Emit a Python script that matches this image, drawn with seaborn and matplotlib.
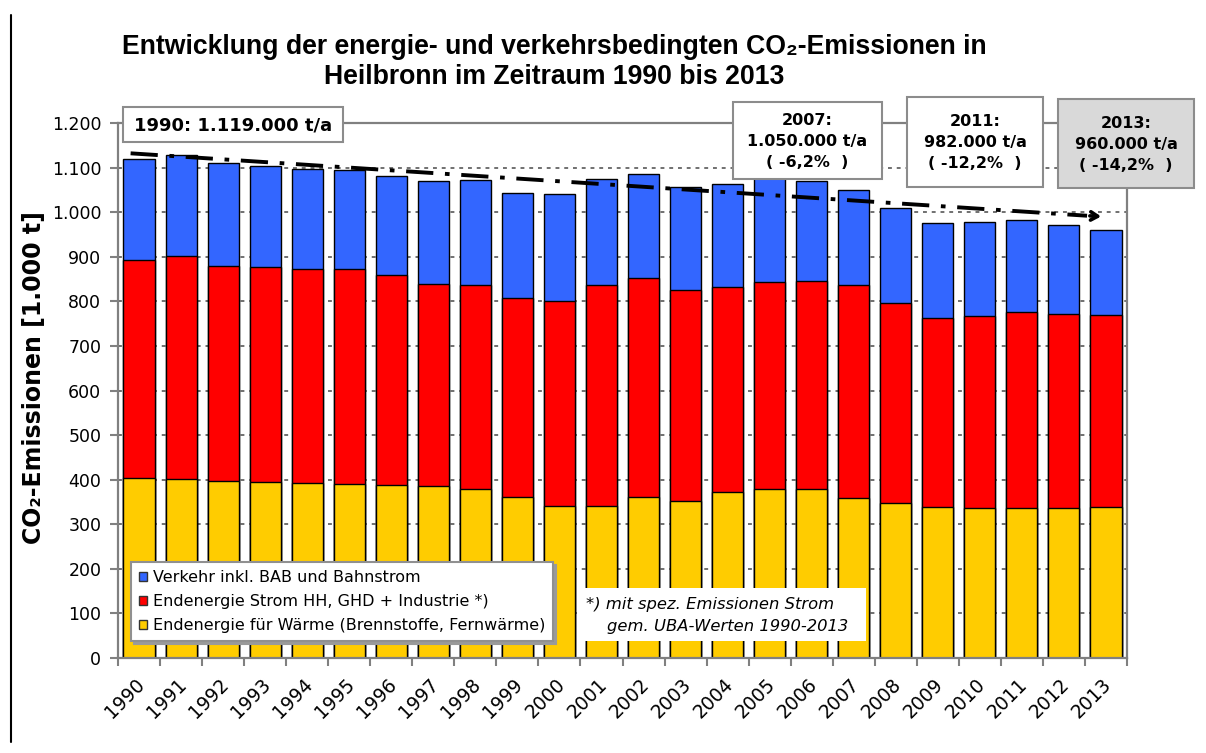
import matplotlib
matplotlib.use("Agg")
import matplotlib.pyplot as plt
import matplotlib.transforms as mtransforms
from matplotlib.patches import Rectangle, Patch
from matplotlib.lines import Line2D
import numpy as np
import seaborn as sns

# ---------------- data ----------------
years = ["1990", "1991", "1992", "1993", "1994", "1995", "1996", "1997", "1998",
         "1999", "2000", "2001", "2002", "2003", "2004", "2005", "2006", "2007",
         "2008", "2009", "2010", "2011", "2012", "2013"]
waerme = [403, 401, 398, 395, 393, 390, 387, 386, 378, 362, 340, 340,
          361, 353, 372, 378, 378, 360, 348, 339, 336, 336, 336, 338]
strom = [490, 501, 482, 483, 480, 482, 471, 454, 459, 446, 461, 497,
         491, 472, 461, 465, 467, 477, 448, 423, 430, 441, 436, 432]
verkehr = [226, 226, 230, 226, 224, 222, 224, 230, 236, 236, 239, 237,
           233, 232, 231, 234, 225, 213, 214, 214, 211, 205, 199, 190]
series_labels = ["Verkehr inkl. BAB und Bahnstrom",
                 "Endenergie Strom HH, GHD + Industrie *)",
                 "Endenergie für Wärme (Brennstoffe, Fernwärme)"]
yticks = list(range(0, 1201, 100))
ytick_labels = ["0", "100", "200", "300", "400", "500", "600", "700", "800",
                "900", "1.000", "1.100", "1.200"]
trend_x = [-0.2, 22.55]
trend_y = [1132, 992]
trend_tip = [22.95, 990]

box_texts = ["1990: 1.119.000 t/a",
             "2007:\n1.050.000 t/a\n( -6,2%  )",
             "2011:\n982.000 t/a\n( -12,2%  )",
             "2013:\n960.000 t/a\n( -14,2%  )"]

c_blue, c_red, c_yellow = "#3366FF", "#FF0000", "#FFCC00"

# ---------------- figure ----------------
sns.set_style("white")
plt.rcParams["font.family"] = ["DejaVu Sans"]
plt.rcParams["text.color"] = "black"
plt.rcParams["axes.labelcolor"] = "black"
plt.rcParams["xtick.color"] = "black"
plt.rcParams["ytick.color"] = "black"

W, H = 1206, 753
fig = plt.figure(figsize=(W / 100, H / 100), dpi=100)
fig.patch.set_facecolor("white")


def fx(px):
    return px / W


def fy(py):
    return 1 - py / H


ax = fig.add_axes([fx(118), fy(658), fx(1127) - fx(118), fy(123) - fy(658)])

red_top = [w + s for w, s in zip(waerme, strom)]
total = [r + v for r, v in zip(red_top, verkehr)]

for vals, col in [(total, c_blue), (red_top, c_red), (waerme, c_yellow)]:
    sns.barplot(x=years, y=vals, color=col, saturation=1, edgecolor="black",
                linewidth=1.0, width=0.74, ax=ax, zorder=2)

ax.set_xlim(-0.5, 23.5)
ax.set_ylim(0, 1200)
ax.set_yticks(yticks)
ax.set_yticklabels(ytick_labels, fontsize=12.5)
ax.yaxis.grid(True, linestyle=(0, (2, 2.5)), color="#707070", linewidth=1.4)
ax.xaxis.grid(False)
ax.set_axisbelow(True)
for sp in ax.spines.values():
    sp.set_visible(True)
    sp.set_color("#808080")
    sp.set_linewidth(1.6)

ax.tick_params(axis="y", length=6, width=1.5, color="#808080", direction="out",
               pad=6, labelcolor="black", left=True)
ax.set_xticks(range(len(years)))
ax.set_xticklabels(years, rotation=45, ha="right", va="top",
                   rotation_mode="anchor", fontsize=13.5, color="black")
ax.tick_params(axis="x", length=0, pad=12, labelcolor="black")
ax.set_xticks(np.arange(-0.5, 23.6, 1.0), minor=True)
ax.tick_params(axis="x", which="minor", length=6, width=1.5, color="#808080",
               direction="out", bottom=True)
offset = mtransforms.ScaledTranslation(-3 / 72, 0, fig.dpi_scale_trans)
for lab in ax.get_xticklabels():
    lab.set_transform(lab.get_transform() + offset)
ax.set_xlabel("")
ax.set_ylabel("CO₂-Emissionen [1.000 t]", fontsize=17, fontweight="bold",
              labelpad=12, color="black")
ax.yaxis.set_label_coords(-0.071, 0.525)

# trend line
ax.plot(trend_x, trend_y, color="black", linewidth=2.8,
        linestyle=(0, (7, 3, 1.2, 3)), zorder=5)
ax.annotate("", xy=(trend_tip[0], trend_tip[1]),
            xytext=(trend_x[1], trend_y[1]),
            arrowprops=dict(arrowstyle="->,head_length=0.5,head_width=0.3",
                            color="black", lw=2.6), zorder=5)

# legend
handles = [Patch(facecolor=c, edgecolor="#333333", linewidth=1)
           for c in (c_blue, c_red, c_yellow)]
leg = ax.legend(handles, series_labels, loc="lower left",
                bbox_to_anchor=(fx(131), fy(641)), bbox_transform=fig.transFigure,
                fontsize=11.5, frameon=True, fancybox=False, framealpha=1,
                facecolor="white",
                shadow={"ox": 2, "oy": -2, "color": "#9a9a9a", "alpha": 1},
                handlelength=0.5, handleheight=0.5, handletextpad=0.35,
                labelspacing=0.55, borderpad=0.5, borderaxespad=0)
leg.get_frame().set_edgecolor("#909090")
leg.get_frame().set_linewidth(1.5)
leg.set_zorder(10)
for t in leg.get_texts():
    t.set_color("black")

# footnote box
fig.add_artist(Rectangle((fx(580), fy(641)), fx(866) - fx(580), fy(588) - fy(641),
                         transform=fig.transFigure, facecolor="white",
                         edgecolor="none", zorder=4))
fig.text(fx(586), fy(604), "*) mit spez. Emissionen Strom", fontsize=11.8,
         style="italic", ha="left", va="center", zorder=5, color="black")
fig.text(fx(607), fy(626), "gem. UBA-Werten 1990-2013", fontsize=11.8,
         style="italic", ha="left", va="center", zorder=5, color="black")

# annotation boxes (pixel rects)
boxes = [((123, 107, 343, 142), "white", 13),
         ((733, 102, 882, 179), "white", 11.5),
         ((907, 97, 1043, 187), "white", 11.5),
         ((1058, 99, 1194, 188), "#D9D9D9", 11.5)]
for (x0, y0, x1, y1), fc, fs in boxes:
    fig.add_artist(Rectangle((fx(x0), fy(y1)), fx(x1) - fx(x0), fy(y0) - fy(y1),
                             transform=fig.transFigure, facecolor=fc,
                             edgecolor="#8C8C8C", linewidth=1.5, zorder=6))
for ((x0, y0, x1, y1), fc, fs), txt in zip(boxes, box_texts):
    fig.text(fx((x0 + x1) / 2), fy((y0 + y1) / 2 + 1), txt, fontsize=fs,
             fontweight="bold", ha="center", va="center", multialignment="center",
             linespacing=1.5, zorder=7, color="black")

# title
fig.text(fx(554), fy(62),
         "Entwicklung der energie- und verkehrsbedingten CO₂-Emissionen in\n"
         "Heilbronn im Zeitraum 1990 bis 2013",
         fontsize=19.2, fontweight="bold", ha="center", va="center",
         multialignment="center", linespacing=1.16, color="black",
         family=["Liberation Sans Narrow", "Liberation Sans", "DejaVu Sans"])

# left border line
fig.add_artist(Line2D([fx(11), fx(11)], [fy(15), fy(742)], color="black",
                      linewidth=1.5, transform=fig.transFigure))

fig.savefig("out.png", dpi=100, facecolor="white")
